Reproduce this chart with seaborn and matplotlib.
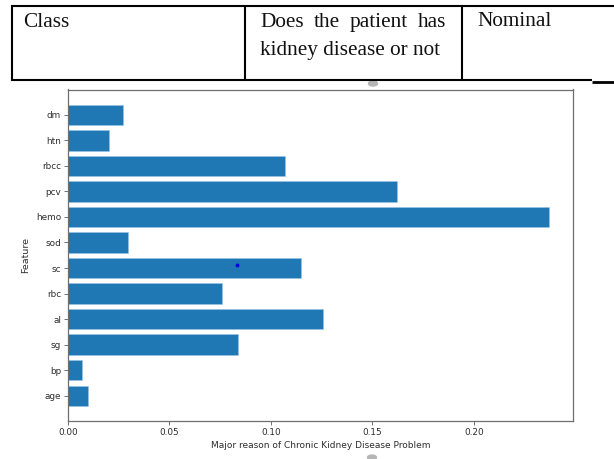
import matplotlib
matplotlib.use("Agg")
import matplotlib.pyplot as plt
import seaborn as sns
import pandas as pd
from matplotlib.lines import Line2D
from matplotlib.patches import Ellipse

# Feature importances (top to bottom as shown on the axis)
features = ["dm", "htn", "rbcc", "pcv", "hemo", "sod", "sc", "rbc", "al", "sg", "bp", "age"]
importance = [0.0271, 0.0203, 0.1068, 0.1621, 0.2370, 0.0297, 0.1150, 0.0760, 0.1256, 0.0838, 0.0070, 0.0097]
xtick_values = [0.00, 0.05, 0.10, 0.15, 0.20]

# Table row above the chart
cell_class = "Class"
cell_desc_lines = ["Does the patient has", "kidney disease or not"]
cell_type = "Nominal"

W, H = 614, 459
sns.set_style("white")
fig = plt.figure(figsize=(W / 100, H / 100), dpi=100)


def fx(px):
    return px / W


def fy(py):
    return 1 - py / H


# ---- table row -------------------------------------------------------------
black = "#000000"
lw_tab = 1.5
for (x0, y0, x1, y1, lw) in [
    (11, 5.8, 614, 5.8, lw_tab),      # top border
    (11, 80.2, 592, 80.2, lw_tab),    # bottom border
    (12, 5, 12, 81, lw_tab),          # left border
    (245, 5, 245, 81, lw_tab),        # column divider
    (462, 5, 462, 81, lw_tab),        # column divider
    (592, 81.8, 614, 81.8, 2.0),      # short rule at right
]:
    fig.add_artist(Line2D([fx(x0), fx(x1)], [fy(y0), fy(y1)], color=black,
                          lw=lw, solid_capstyle="butt", transform=fig.transFigure))

serif = dict(family="Liberation Serif", size=15.3, color="#111111")
fig.text(fx(23), fy(26.6), cell_class, ha="left", va="baseline", **serif)
fig.text(fx(477), fy(26.3), cell_type, ha="left", va="baseline", **serif)

# justified first line of the description cell
words = cell_desc_lines[0].split()
word_texts = [fig.text(0, fy(26.6), w, ha="left", va="baseline", **serif) for w in words]
fig.canvas.draw()
renderer = fig.canvas.get_renderer()
widths = [t.get_window_extent(renderer).width for t in word_texts]
left_px, right_px = 260, 446.7
gap = (right_px - left_px - sum(widths)) / (len(words) - 1)
xpos = left_px
for t, wd in zip(word_texts, widths):
    t.set_x(fx(xpos))
    xpos += wd + gap
fig.text(fx(260), fy(55.0), cell_desc_lines[1], ha="left", va="baseline", **serif)

# small grey handles of the embedded picture
for cx, cy in [(373, 83.5), (372, 457.5)]:
    fig.add_artist(Ellipse((fx(cx), fy(cy)), fx(9), 5 / H, color="#b5b5b5",
                           transform=fig.transFigure))

# ---- bar chart -------------------------------------------------------------
ax = fig.add_axes([fx(68), fy(421), fx(573) - fx(68), fy(89.5) - fy(421)])
df = pd.DataFrame({"Feature": features, "Importance": importance})
sns.barplot(data=df, x="Importance", y="Feature", orient="h", color="#1f77b4",
            saturation=1, width=0.8, edgecolor="#9cc3e6", linewidth=0.4, ax=ax)

ax.set_xlim(0, max(importance) * 1.05)
ax.set_ylim(len(features) - 1 + 0.99, -0.99)
ax.set_xticks(xtick_values)
ax.set_xticklabels([f"{v:.2f}" for v in xtick_values])

# stray point on the "sc" bar
sc_idx = features.index("sc")
ax.plot([0.0833], [sc_idx - 0.12], marker="o", ms=1.8, color="#0000ee", lw=0)

for s in ax.spines.values():
    s.set_visible(True)
    s.set_color("#6f6f6f")
    s.set_linewidth(0.9)
ax.tick_params(axis="both", which="major", direction="out", length=3, width=0.7,
               color="#6f6f6f", labelcolor="#2e2e2e", labelsize=6.4, pad=2,
               left=True, bottom=True)
ax.set_xlabel("Major reason of Chronic Kidney Disease Problem", fontsize=6.5,
              color="#2e2e2e", labelpad=3)
ax.set_ylabel("Feature", fontsize=6.8, color="#2e2e2e", labelpad=4)

fig.savefig("out.png", dpi=100)
